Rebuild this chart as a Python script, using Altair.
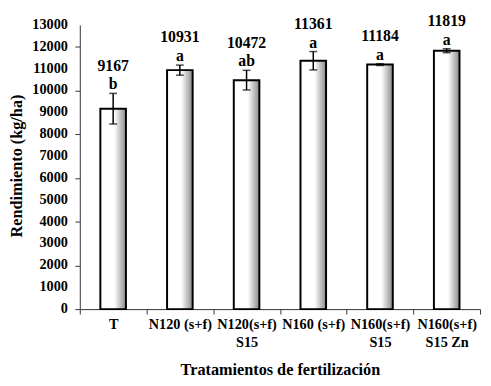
import altair as alt
import pandas as pd

categories = ["T", "N120 (s+f)", "N120(s+f)|S15", "N160 (s+f)", "N160(s+f)|S15", "N160(s+f)|S15 Zn"]
yield_kg = [9167, 10931, 10472, 11361, 11184, 11819]
error_kg = [700, 230, 450, 420, 40, 90]
letters = ["b", "a", "ab", "a", "a", "a"]
y_ticks = [0, 1000, 2000, 3000, 4000, 5000, 6000, 7000, 8000, 9000, 10000, 11000, 12000, 13000]

df = pd.DataFrame({"cat": categories, "y": yield_kg, "err": error_kg, "letter": letters})
df["lo"] = df["y"] - df["err"]
df["hi"] = df["y"] + df["err"]
ticks_df = pd.DataFrame({"tick": y_ticks})

FONT = "Times New Roman"

x_axis = alt.Axis(
    title="Tratamientos de fertilización", labelAngle=0,
    labelExpr="split(datum.label, '|')", labelLineHeight=18,
    labelPadding=4, tickBand="extent", tickSize=5,
    titleY=62, titleBaseline="middle", labelOverlap=False,
)
x_scale = alt.Scale(paddingInner=0, paddingOuter=0)

y_scale = alt.Scale(domain=[0, 13000], nice=False)
y_axis = alt.Axis(
    title="Rendimiento (kg/ha)", values=y_ticks, grid=False,
    labels=False, tickSize=5,
    titleX=-64, titleY=143, titleAlign="center", titleBaseline="middle",
)

grad = alt.Gradient(
    gradient="linear", x1=0, x2=1, y1=0, y2=0,
    stops=[
        alt.GradientStop(offset=0, color="#ffffff"),
        alt.GradientStop(offset=0.55, color="#ffffff"),
        alt.GradientStop(offset=1, color="#8a8a8a"),
    ],
)

base = alt.Chart(df)

bars = base.mark_bar(fill=grad, stroke="black", strokeWidth=2, size=26).encode(
    x=alt.X("cat:N", sort=categories, scale=x_scale, axis=x_axis),
    y=alt.Y("y:Q", scale=y_scale, axis=y_axis),
)

xs = alt.X("cat:N", sort=categories)

rules = base.mark_rule(color="black", strokeWidth=1.5).encode(
    x=xs, y="lo:Q", y2="hi:Q"
)
caps_hi = base.mark_tick(color="black", thickness=1.5, size=8).encode(x=xs, y="hi:Q")
caps_lo = base.mark_tick(color="black", thickness=1.5, size=8).encode(x=xs, y="lo:Q")

letter_text = base.mark_text(baseline="alphabetic", dy=-4).encode(
    x=xs, y="hi:Q", text="letter:N"
)
value_text = base.mark_text(baseline="alphabetic", dy=-23).encode(
    x=xs, y="hi:Q", text=alt.Text("y:Q", format="d")
)

y_labels = alt.Chart(ticks_df).mark_text(
    align="right", baseline="middle", fontSize=14.5
).encode(
    x=alt.value(-12),
    y=alt.Y("tick:Q", scale=y_scale),
    text=alt.Text("tick:Q", format="d"),
)

chart = (
    alt.layer(bars, rules, caps_hi, caps_lo, letter_text, value_text, y_labels)
    .properties(
        width=407, height=289,
        autosize=alt.AutoSizeParams(type="none"),
        padding={"left": 73, "top": 14, "right": 3, "bottom": 75},
        background="white",
    )
    .configure_view(stroke=None)
    .configure_axis(
        labelFont=FONT, labelFontSize=14.5, labelFontWeight="bold", labelColor="black",
        titleFont=FONT, titleFontSize=16.5, titleFontWeight="bold", titleColor="black",
        tickColor="#333", domainColor="#333",
    )
    .configure_text(font=FONT, fontSize=16, fontWeight="bold", color="black")
)

chart.save("out.html", embed_options={"renderer": "svg", "actions": False})
